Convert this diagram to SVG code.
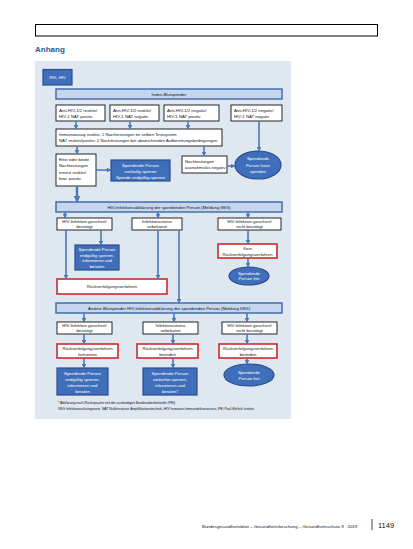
<svg xmlns="http://www.w3.org/2000/svg" width="413" height="549" viewBox="0 0 413 549">
<style>
text{font-family:"Liberation Sans",Arial,sans-serif;fill:#111}
.t{font-size:4.3px}
.c{text-anchor:middle}
.w{fill:#fff}
.box{fill:#fff;stroke:#111;stroke-width:0.9}
.red{fill:#fff;stroke:#cc2a2f;stroke-width:1.6}
.hdr{fill:#c5d6ee;stroke:#3b65a6;stroke-width:1.4}
.blue{fill:#3f6fba;stroke:#2a4f8c;stroke-width:1.2}
.con line{stroke:#4a78ba;stroke-width:1.6;marker-end:url(#ah)}
</style>
<defs>
<marker id="ah" viewBox="0 0 10 10" refX="9" refY="5" markerWidth="3" markerHeight="3" orient="auto" markerUnits="strokeWidth">
<path d="M0,0 L10,5 L0,10 z" fill="#4a78ba"/>
</marker>
</defs>
<rect x="0" y="0" width="413" height="549" fill="#fff"/>
<rect x="35.5" y="24.5" width="342" height="11.5" fill="#fff" stroke="#000" stroke-width="1"/>
<text x="35" y="52" style="font-size:8px;fill:#1d5a99;font-weight:bold">Anhang</text>
<rect x="35" y="61" width="256" height="358" fill="#dfe7f1"/>

<g id="rki"><rect class="blue" x="43" y="69.5" width="29" height="15.5"/><text class="t c w" x="57.5" y="79">RKI, HIV</text></g>

<g id="h1"><rect class="hdr" x="56" y="89" width="226" height="10"/><text class="t c" x="169" y="95.5">Index-Blutspender</text></g>

<g id="b1"><rect class="box" x="56" y="105" width="49" height="16"/><text class="t" x="59" y="111.5">Anti-HIV-1/2 reaktiv/</text><text class="t" x="59" y="117.5">HIV-1 NAT positiv</text></g>
<g id="b2"><rect class="box" x="110" y="105" width="49" height="16"/><text class="t" x="113" y="111.5">Anti-HIV-1/2 reaktiv/</text><text class="t" x="113" y="117.5">HIV-1 NAT negativ</text></g>
<g id="b3"><rect class="box" x="164" y="105" width="55" height="16"/><text class="t" x="167" y="111.5">Anti-HIV-1/2 negativ/</text><text class="t" x="167" y="117.5">HIV-1 NAT positiv</text></g>
<g id="b4"><rect class="box" x="231" y="105" width="51" height="16"/><text class="t" x="234" y="111.5">Anti-HIV-1/2 negativ/</text><text class="t" x="234" y="117.5">HIV-1 NAT negativ</text></g>

<g id="long"><rect class="box" x="56" y="129" width="166" height="17"/><text class="t" x="59" y="135.5">Immunoassay reaktiv: 2 Nachtestungen im selben Testsystem</text><text class="t" x="59" y="142">NAT reaktiv/positiv: 2 Nachtestungen bei abweichenden Aufbereitungsbedingungen</text></g>

<g id="left"><rect class="box" x="56" y="154" width="40" height="32"/><text class="t" x="59" y="160.5">Eine oder beide</text><text class="t" x="59" y="167">Nachtestungen</text><text class="t" x="59" y="173.5">erneut reaktiv/</text><text class="t" x="59" y="180">bzw. positiv</text></g>
<g id="sperr1"><rect class="blue" x="111" y="160" width="59" height="21"/><text class="t c w" x="140.5" y="166.5">Spendende Person</text><text class="t c w" x="140.5" y="172.5">vorläufig sperren</text><text class="t c w" x="140.5" y="178.5">Spende endgültig sperren</text></g>
<g id="neg"><rect class="box" x="182" y="156" width="45" height="17"/><text class="t" x="185" y="162.5">Nachtestungen</text><text class="t" x="185" y="169">ausnahmslos negativ</text></g>
<g id="ell1"><ellipse class="blue" cx="258" cy="165" rx="23" ry="14"/><text class="t c w" x="258" y="160">Spendende</text><text class="t c w" x="258" y="166.5">Person kann</text><text class="t c w" x="258" y="173">spenden</text></g>

<g id="h2"><rect class="hdr" x="56" y="202" width="226" height="10"/><text class="t c" x="169" y="208.5">HIV-Infektionsabklärung der spendenden Person (Meldung IfSG)</text></g>

<g id="r3a"><rect class="box" x="57" y="218" width="55" height="12"/><text class="t c" x="84.5" y="223">HIV-Infektion gesichert/</text><text class="t c" x="84.5" y="228.3">bestätigt</text></g>
<g id="r3b"><rect class="box" x="132" y="218" width="50" height="12"/><text class="t c" x="157" y="223">Infektionsstatus</text><text class="t c" x="157" y="228.3">unbekannt</text></g>
<g id="r3c"><rect class="box" x="218" y="218" width="63" height="12"/><text class="t c" x="249.5" y="223">HIV-Infektion gesichert/</text><text class="t c" x="249.5" y="228.3">nicht bestätigt</text></g>

<g id="sperr2"><rect class="blue" x="75" y="245" width="44" height="25"/><text class="t c w" x="97" y="251">Spendende Person</text><text class="t c w" x="97" y="256.5">endgültig sperren,</text><text class="t c w" x="97" y="262">informieren und</text><text class="t c w" x="97" y="267.5">beraten</text></g>
<g id="kein"><rect class="red" x="218" y="244" width="59" height="14"/><text class="t c" x="247.5" y="250">Kein</text><text class="t c" x="247.5" y="255.5">Rückverfolgungsverfahren</text></g>
<g id="ell2"><ellipse class="blue" cx="249" cy="276" rx="20" ry="9"/><text class="t c w" x="249" y="274.5">Spendende</text><text class="t c w" x="249" y="280">Person frei</text></g>
<g id="rvv"><rect class="red" x="57" y="279" width="110" height="15"/><text class="t c" x="112" y="288">Rückverfolgungsverfahren</text></g>

<g id="h3"><rect class="hdr" x="56" y="303" width="226" height="10"/><text class="t c" x="169" y="309.5">Andere Blutspender HIV-Infektionsabklärung der spendenden Person (Meldung IfSG)</text></g>

<g id="r4a"><rect class="box" x="57" y="322" width="55" height="12"/><text class="t c" x="84.5" y="327">HIV-Infektion gesichert/</text><text class="t c" x="84.5" y="332.3">bestätigt</text></g>
<g id="r4b"><rect class="box" x="143" y="322" width="55" height="12"/><text class="t c" x="170.5" y="327">Infektionsstatus</text><text class="t c" x="170.5" y="332.3">unbekannt</text></g>
<g id="r4c"><rect class="box" x="222" y="322" width="55" height="12"/><text class="t c" x="249.5" y="327">HIV-Infektion gesichert/</text><text class="t c" x="249.5" y="332.3">nicht bestätigt</text></g>

<g id="r5a"><rect class="red" x="57" y="344" width="61" height="14"/><text class="t c" x="87.5" y="350">Rückverfolgungsverfahren</text><text class="t c" x="87.5" y="355.5">fortsetzen</text></g>
<g id="r5b"><rect class="red" x="137" y="344" width="61" height="14"/><text class="t c" x="167.5" y="350">Rückverfolgungsverfahren</text><text class="t c" x="167.5" y="355.5">beenden</text></g>
<g id="r5c"><rect class="red" x="219" y="344" width="58" height="14"/><text class="t c" x="248" y="350">Rückverfolgungsverfahren</text><text class="t c" x="248" y="355.5">beenden</text></g>

<g id="r6a"><rect class="blue" x="57" y="368" width="51" height="27"/><text class="t c w" x="82.5" y="374.5">Spendende Person</text><text class="t c w" x="82.5" y="380.5">endgültig sperren,</text><text class="t c w" x="82.5" y="386.5">informieren und</text><text class="t c w" x="82.5" y="392.5">beraten</text></g>
<g id="r6b"><rect class="blue" x="143" y="368" width="54" height="27"/><text class="t c w" x="170" y="374.5">Spendende Person</text><text class="t c w" x="170" y="380.5">weiterhin sperren,</text><text class="t c w" x="170" y="386.5">informieren und</text><text class="t c w" x="170" y="392.5">beraten*</text></g>
<g id="r6c"><ellipse class="blue" cx="249" cy="375" rx="25" ry="11"/><text class="t c w" x="249" y="373.5">Spendende</text><text class="t c w" x="249" y="379.5">Person frei</text></g>

<g id="notes"><text x="58" y="404" style="font-size:3.4px">* Abklärung nach Rücksprache mit der zuständigen Bundesoberbehörde (PEI)</text><text x="58" y="409.5" style="font-size:3.4px">IfSG Infektionsschutzgesetz, NAT Nukleinsäure-Amplifikationstechnik, HIV humanes Immundefizienzvirus, PEI Paul-Ehrlich-Institut</text></g>

<g class="con" id="connectors">
<line x1="76" y1="121" x2="76" y2="129"/>
<line x1="130" y1="121" x2="130" y2="129"/>
<line x1="188" y1="121" x2="188" y2="129"/>
<line x1="259" y1="121" x2="259" y2="151"/>
<line x1="77" y1="146" x2="77" y2="154"/>
<line x1="204" y1="146" x2="204" y2="156"/>
<line x1="96" y1="170" x2="111" y2="170"/>
<line x1="227" y1="166" x2="235" y2="166"/>
<line x1="77" y1="186" x2="77" y2="202" style="stroke-width:2.4"/>
<line x1="65" y1="212" x2="65" y2="218"/>
<line x1="158" y1="212" x2="158" y2="218"/>
<line x1="248" y1="212" x2="248" y2="218"/>
<line x1="66" y1="230" x2="66" y2="279"/>
<line x1="101" y1="230" x2="101" y2="245"/>
<line x1="158" y1="230" x2="158" y2="279"/>
<line x1="179" y1="230" x2="179" y2="303"/>
<line x1="248" y1="230" x2="248" y2="244"/>
<line x1="248" y1="258" x2="248" y2="267"/>
<line x1="84" y1="313" x2="84" y2="322"/>
<line x1="174" y1="313" x2="174" y2="322"/>
<line x1="247" y1="313" x2="247" y2="322"/>
<line x1="84" y1="334" x2="84" y2="344"/>
<line x1="173" y1="334" x2="173" y2="344"/>
<line x1="247" y1="334" x2="247" y2="344"/>
<line x1="84" y1="358" x2="84" y2="368"/>
<line x1="173" y1="358" x2="173" y2="368"/>
<line x1="247" y1="358" x2="247" y2="364"/>
</g>

<text x="202" y="527.5" style="font-size:4.4px">Bundesgesundheitsblatt – Gesundheitsforschung – Gesundheitsschutz 9 · 2019</text>
<line x1="372" y1="519" x2="372" y2="530" stroke="#111" stroke-width="0.8"/>
<text x="378" y="528" style="font-size:7.5px">1149</text>
</svg>
